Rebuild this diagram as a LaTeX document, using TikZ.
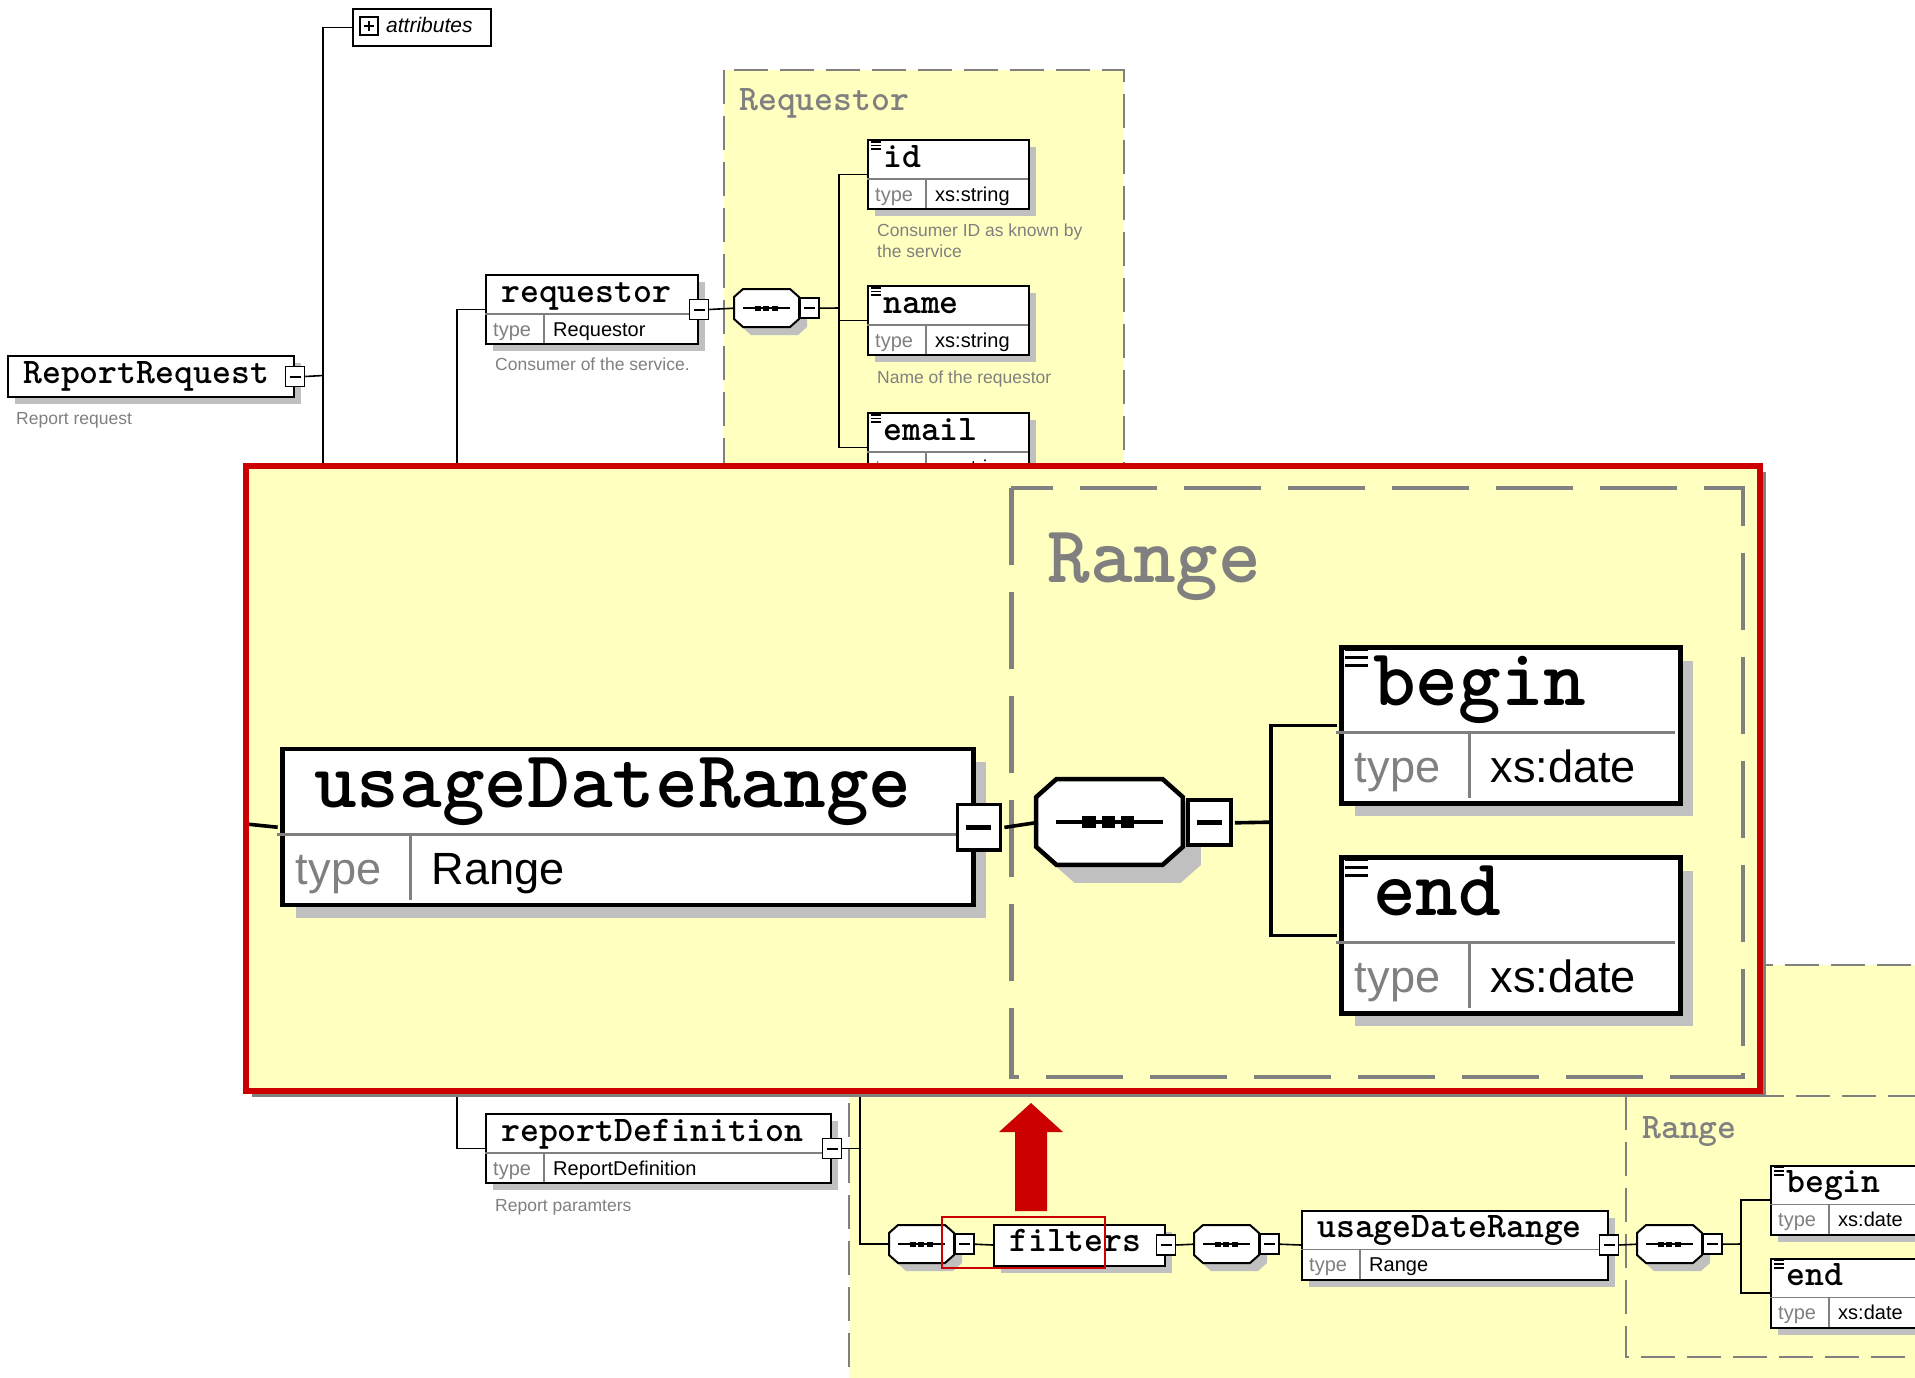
\documentclass[tikz,border=0pt]{standalone}
\usepackage{fontspec}
\usepackage{tikz}
\newfontfamily\sansfam{Liberation Sans}
\newcommand{\namefont}{\ttfamily\bfseries\fontsize{36}{36}\selectfont}
\newcommand{\typefont}{\sansfam\fontsize{20}{22}\selectfont}
\newcommand{\docfont}{\sansfam\fontsize{17.5}{20}\selectfont}
\newcommand{\attrfont}{\sansfam\itshape\fontsize{21}{22}\selectfont}

\definecolor{paleyellow}{RGB}{255,255,192}
\definecolor{shadowgray}{RGB}{192,192,192}
\definecolor{dashgray}{RGB}{128,128,128}
\definecolor{markred}{RGB}{204,0,0}

\def\lwf{1}
\tikzset{
  elbox/.style={draw, fill=white, line width=2pt*\lwf, inner sep=0pt, minimum height=69},
  shadowfill/.style={fill=shadowgray},
  rowline/.style={draw=dashgray, line width=1.5pt*\lwf},
  conn/.style={line width=1.6pt*\lwf},
  octline/.style={draw, fill=white, line width=2pt*\lwf},
  foldbox/.style={draw, fill=white, line width=1.5pt*\lwf, minimum width=19, minimum height=20, inner sep=0pt},
  seqbox/.style={inner sep=0pt, minimum width=65, minimum height=38},
  grpdash/.style={dash pattern=on 34pt off 12pt},
  grp/.style={draw=dashgray, fill=paleyellow, line width=2pt*\lwf, grpdash},
  nametext/.style={anchor=base west, inner sep=0pt, font=\namefont},
  typetext/.style={anchor=base west, inner sep=0pt, font=\typefont},
  doctext/.style={anchor=base west, inner sep=0pt, font=\docfont, text=dashgray},
  grplabel/.style={anchor=base west, inner sep=0pt, font=\namefont, text=dashgray},
}

% element with type row: id, x, y, width, name, type, 1 = doc icon / 2 = fold box
\newcommand{\elem}[7]{%
  \fill[shadowfill] ({#2+8},{#3+8}) rectangle ++(#4,69);
  \node[elbox, minimum width=#4, anchor=north west] (#1) at (#2,#3) {};
  \draw[rowline] (#2,{#3+40}) -- ++(#4,0);
  \draw[rowline] ({#2+59},{#3+40}) -- ++(0,29);
  \node[nametext] at ({#2+16},{#3+28}) {#5};
  \node[typetext, text=dashgray] at ({#2+8},{#3+62}) {type};
  \node[typetext] at ({#2+68},{#3+62}) {#6};
  \ifnum#7=1
    \foreach \k in {0,1,2} \draw[line width=1.6pt*\lwf] ({#2+4},{#3+3+3.6*\k}) -- ++(10,0);
  \else
    \node[foldbox] (#1-m) at (#1.east) {\rule{11pt}{2pt}};
  \fi
}

% element without type row
\newcommand{\elemone}[5]{%
  \fill[shadowfill] ({#2+8},{#3+8}) rectangle ++(#4,41);
  \node[elbox, minimum height=41, minimum width=#4, anchor=north west] (#1) at (#2,#3) {};
  \node[nametext] at ({#2+16},{#3+28}) {#5};
  \node[foldbox] (#1-m) at (#1.east) {\rule{11pt}{2pt}};
}

% sequence compositor
\newcommand{\seqnode}[3]{%
  \fill[shadowfill] ({#2+17},{#3+8}) -- ({#2+64},{#3+8}) -- ({#2+73},{#3+16}) -- ({#2+73},{#3+38}) -- ({#2+64},{#3+46}) -- ({#2+17},{#3+46}) -- ({#2+8},{#3+38}) -- ({#2+8},{#3+16}) -- cycle;
  \draw[octline] ({#2+9},#3) -- ({#2+56},#3) -- ({#2+65},{#3+8}) -- ({#2+65},{#3+30}) -- ({#2+56},{#3+38}) -- ({#2+9},{#3+38}) -- (#2,{#3+30}) -- (#2,{#3+8}) -- cycle;
  \node[seqbox, anchor=north west] (#1) at (#2,#3) {};
  \draw[conn] ({#2+9},{#3+19}) -- ({#2+56},{#3+19});
  \foreach \k in {0,1,2} \fill ({#2+20.5+8.5*\k},{#3+16.5}) rectangle ++(6,5);
  \node[foldbox, anchor=west] (#1-m) at (#1.east) {\rule{11pt}{2pt}};
}

% the Range part, drawn small and again magnified
\newcommand{\rangepart}[1]{%
  \draw[grp] (1626,1096) rectangle (1950,1357);
  \node[grplabel] (#1-rlabel) at (1642,1138) {Range};
  \seqnode{#1-sq2}{1194}{1225}
  \elem{#1-udr}{1301}{1209.5}{306}{usageDateRange}{Range}{2}
  \seqnode{#1-sq3}{1637}{1225}
  \elem{#1-begin}{1770}{1164.5}{150}{begin}{xs:date}{1}
  \elem{#1-end}{1770}{1257.5}{150}{end}{xs:date}{1}
  \coordinate (#1-j) at (1741,1244);
  \draw[conn] (#1-sq2-m.east) -- (#1-udr.west);
  \draw[conn] (#1-udr-m.east) -- (#1-sq3.west);
  \draw[conn] (#1-sq3-m.east) -- (#1-j);
  \draw[conn] (#1-begin.west) -| (#1-j) |- (#1-end.west);
}

\begin{document}
\begin{tikzpicture}[x=1pt, y=-1pt]
			%%%%% START %%%%%
			\useasboundingbox (0,0) rectangle (1915,1377);
			\fill[white] (0,0) rectangle (1915,1377);
			
			% groups
			\draw[grp] (724,70) rectangle (1124,520);
			\node[grplabel] (reqlabel) at (739,110) {Requestor};
			\draw[grp] (849,965) rectangle (1960,1420);
			
			% root
			\fill[black] (355,11) rectangle (492,47);
			\node[draw, fill=white, line width=2, minimum width=138, minimum height=37, inner sep=0pt, anchor=north west] (attr) at (352,8) {};
			\draw[line width=1.5] (360,17) rectangle (378,35);
			\draw[line width=1.6] (364,26) -- (374,26);
			\draw[line width=1.6] (369,21) -- (369,31);
			\node[anchor=base west, inner sep=0pt, font=\attrfont] (attrtext) at (386,32) {attributes};
			
			\elemone{rr}{7}{355}{286}{ReportRequest}
			\node[doctext] (rrdoc) at (16,424) {Report request};
			
			\elem{req}{485}{274}{212}{requestor}{Requestor}{2}
			\node[doctext] (reqdoc) at (495,370) {Consumer of the service.};
			
			\seqnode{sq1}{734}{289}
			\elem{id}{867}{139}{161}{id}{xs:string}{1}
			\node[doctext] (iddoc) at (877,236) {Consumer ID as known by};
			\node[doctext] (iddoc2) at (877,257) {the service};
			\elem{name}{867}{285}{161}{name}{xs:string}{1}
			\node[doctext] (namedoc) at (877,383) {Name of the requestor};
			\elem{email}{867}{412}{161}{email}{xs:string}{1}
			
			% report definition
			\elem{repdef}{485}{1113}{345}{reportDefinition}{ReportDefinition}{2}
			\node[doctext] (repdoc) at (495,1211) {Report paramters};
			\seqnode{sqb1}{889}{1225}
			\elemone{filt}{993}{1223.5}{171}{filters}
			\rangepart{s}
			
			\coordinate (rrj) at (323,375.5);
			\coordinate (rrlow) at (323,480);
			\coordinate (sq1j) at (839,308);
			\draw[conn] (rr-m.east) -- (rrj);
			\draw[conn] (attr.west) -| (rrlow);
			\draw[conn] (req.west) -- ++(-28,0) |- (repdef.west);
			\draw[conn] (req-m.east) -- (sq1.west);
			\draw[conn] (sq1-m.east) -- (sq1j);
			\draw[conn] (id.west) -| (sq1j) |- (email.west);
			\draw[conn] (sq1j) |- (name.west);
			
			\coordinate (rdtop) at (860,1080);
			\draw[conn] (repdef-m.east) -- (repdef-m.east -| rdtop);
			\draw[conn] (rdtop) |- (sqb1.west);
			\draw[conn] (sqb1-m.east) -- (filt.west);
			\draw[conn] (filt-m.east) -- (s-sq2.west);
			
			% magnified inset
			\fill[dashgray] (252,472) rectangle (1766,1097);
			\fill[paleyellow] (246,466) rectangle (1760,1091);
			\begin{scope}
				\clip (249,469) rectangle (1757,1088);
				\begin{scope}[shift={(-2660.2,-1987)}, scale=2.258, transform shape, grpdash/.style={dash pattern=on 77pt off 27pt}]
					\def\lwf{2.258}
					\rangepart{b}
				\end{scope}
			\end{scope}
			\draw[markred, line width=6] (246,466) rectangle (1760,1091);
			
			% pointer to the magnified part
			\draw[markred, line width=2.2] (942,1217) rectangle (1105,1268);
			\fill[markred] (1015,1211) -- (1015,1132) -- (999,1132) -- (1031,1103) -- (1063,1132) -- (1047,1132) -- (1047,1211) -- cycle;
			
			%%%%% END %%%%%
		\end{tikzpicture}
\end{document}
